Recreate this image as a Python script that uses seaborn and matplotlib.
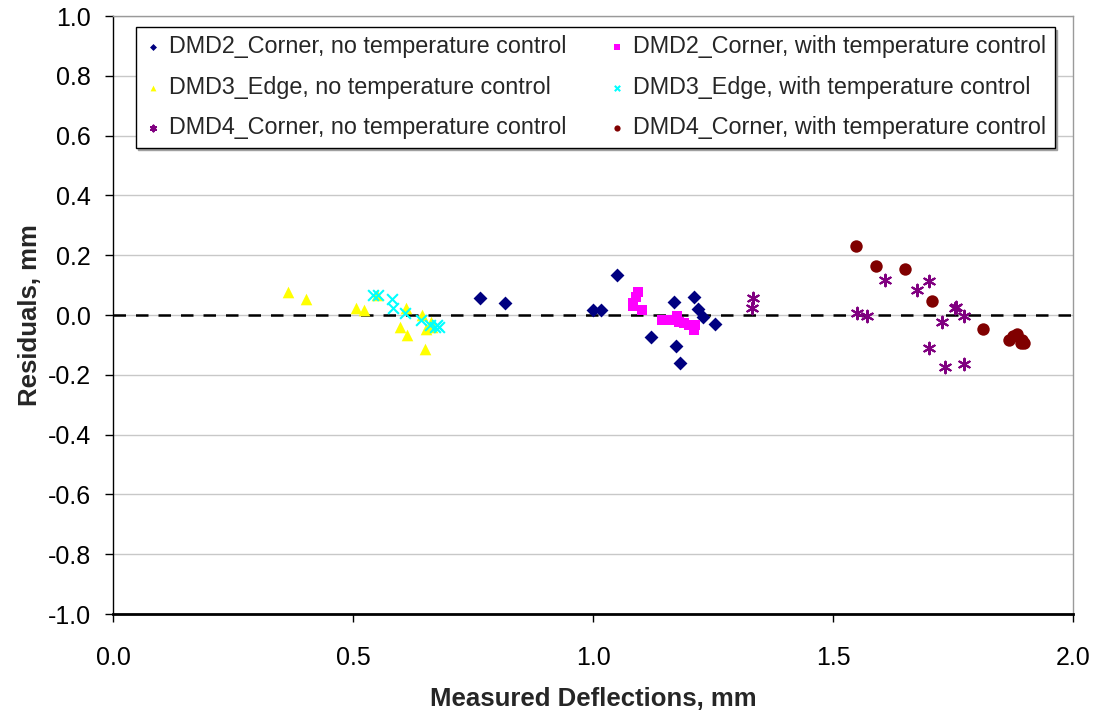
import matplotlib
matplotlib.use("Agg")
import matplotlib.pyplot as plt
import seaborn as sns
import pandas as pd

sns.set_theme(style="white")
plt.rcParams['font.family'] = ['Liberation Sans', 'DejaVu Sans']

# --- data ---
dmd2_no_x = [0.765, 0.817, 1.001, 1.017, 1.050, 1.120, 1.168, 1.173, 1.181, 1.210, 1.219, 1.230, 1.255]
dmd2_no_y = [0.056, 0.041, 0.016, 0.016, 0.133, -0.073, 0.045, -0.105, -0.162, 0.059, 0.019, -0.007, -0.031]

dmd2_tc_x = [1.093, 1.090, 1.084, 1.083, 1.102, 1.144, 1.163, 1.174, 1.180, 1.190, 1.201, 1.211, 1.213]
dmd2_tc_y = [0.078, 0.061, 0.039, 0.030, 0.017, -0.017, -0.017, -0.003, -0.022, -0.026, -0.034, -0.050, -0.034]

dmd3_no_x = [0.365, 0.403, 0.507, 0.522, 0.549, 0.611, 0.597, 0.613, 0.644, 0.649, 0.653, 0.663, 0.665]
dmd3_no_y = [0.076, 0.053, 0.022, 0.017, 0.067, 0.022, -0.041, -0.067, 0.000, -0.114, -0.048, -0.022, -0.040]

dmd3_tc_x = [0.542, 0.552, 0.582, 0.583, 0.608, 0.641, 0.660, 0.670, 0.679, 0.674]
dmd3_tc_y = [0.067, 0.067, 0.053, 0.022, 0.008, -0.017, -0.034, -0.041, -0.041, -0.034]

dmd4_no_x = [1.333, 1.331, 1.551, 1.570, 1.609, 1.676, 1.699, 1.699, 1.727, 1.734, 1.754, 1.757, 1.772, 1.773]
dmd4_no_y = [0.058, 0.022, 0.006, -0.002, 0.117, 0.082, 0.115, -0.110, -0.022, -0.173, 0.022, 0.028, -0.002, -0.164]

dmd4_tc_x = [1.548, 1.589, 1.650, 1.706, 1.813, 1.867, 1.876, 1.883, 1.891, 1.898, 1.893]
dmd4_tc_y = [0.230, 0.164, 0.153, 0.048, -0.046, -0.084, -0.070, -0.065, -0.093, -0.093, -0.085]

x_ticks = [0.0, 0.5, 1.0, 1.5, 2.0]
y_ticks = [-1.0, -0.8, -0.6, -0.4, -0.2, 0.0, 0.2, 0.4, 0.6, 0.8, 1.0]

series = [
    ("DMD2_Corner, no temperature control", dmd2_no_x, dmd2_no_y, "D", "#000080", 50),
    ("DMD2_Corner, with temperature control", dmd2_tc_x, dmd2_tc_y, "s", "#FF00FF", 55),
    ("DMD3_Edge, no temperature control", dmd3_no_x, dmd3_no_y, "^", "#FFFF00", 70),
    ("DMD3_Edge, with temperature control", dmd3_tc_x, dmd3_tc_y, "x", "#00FFFF", 60),
    ("DMD4_Corner, no temperature control", dmd4_no_x, dmd4_no_y, (6, 2, 0), "#800080", 70),
    ("DMD4_Corner, with temperature control", dmd4_tc_x, dmd4_tc_y, "o", "#800000", 80),
]

fig = plt.figure(figsize=(10.95, 7.12), dpi=100)
ax = fig.add_axes([113 / 1095, 1 - 614 / 712, 960 / 1095, 598 / 712])

for label, xs, ys, mk, col, s in series:
    df = pd.DataFrame({"x": xs, "y": ys})
    lw = 1.5 if mk in ("x", (6, 2, 0)) else 0
    sns.scatterplot(data=df, x="x", y="y", ax=ax, marker=mk, color=col, s=s,
                    edgecolor=col if lw == 0 else None, linewidth=lw, label=label, zorder=3)

ax.axhline(0, color="black", linestyle=(0, (5, 4)), linewidth=1.8, zorder=2)

ax.set_xlim(0, 2.0)
ax.set_ylim(-1.0, 1.0)
ax.set_xticks(x_ticks)
ax.set_xticklabels([f"{v:.1f}" for v in x_ticks])
ax.set_yticks(y_ticks)
ax.set_yticklabels([f"{v:.1f}" for v in y_ticks])
ax.yaxis.grid(True, color="#c8c8c8", linewidth=1)
ax.xaxis.grid(False)
ax.set_axisbelow(True)

for side in ("top", "right"):
    ax.spines[side].set_color("#9a9a9a")
    ax.spines[side].set_linewidth(1)
ax.spines["left"].set_color("black")
ax.spines["left"].set_linewidth(1)
ax.spines["bottom"].set_color("black")
ax.spines["bottom"].set_linewidth(2)

ax.tick_params(axis="both", which="major", direction="out", length=6, width=1,
               color="black", labelsize=18, labelcolor="black",
               bottom=True, left=True)
ax.tick_params(axis="x", pad=17)
ax.tick_params(axis="y", pad=10)

ax.set_xlabel("Measured Deflections, mm", fontsize=18.5, fontweight="bold", labelpad=12)
ax.set_ylabel("Residuals, mm", fontsize=18.5, fontweight="bold", labelpad=4)

# legend: row-wise order (matplotlib fills columns first)
handles, labels = ax.get_legend_handles_labels()
order = [0, 2, 4, 1, 3, 5]
leg = ax.legend([handles[i] for i in order], [labels[i] for i in order],
                loc="upper left", bbox_to_anchor=(0.0235, 0.982), ncol=2,
                fontsize=16.8, frameon=True, fancybox=False, edgecolor="black",
                borderaxespad=0, markerscale=0.5, handletextpad=0.3,
                columnspacing=1.75, labelspacing=0.76, borderpad=0.35,
                handlelength=0.8, shadow={"color": "#a0a0a0", "alpha": 1})
leg.get_frame().set_linewidth(1)

fig.savefig("out.png", dpi=100, facecolor="white")
